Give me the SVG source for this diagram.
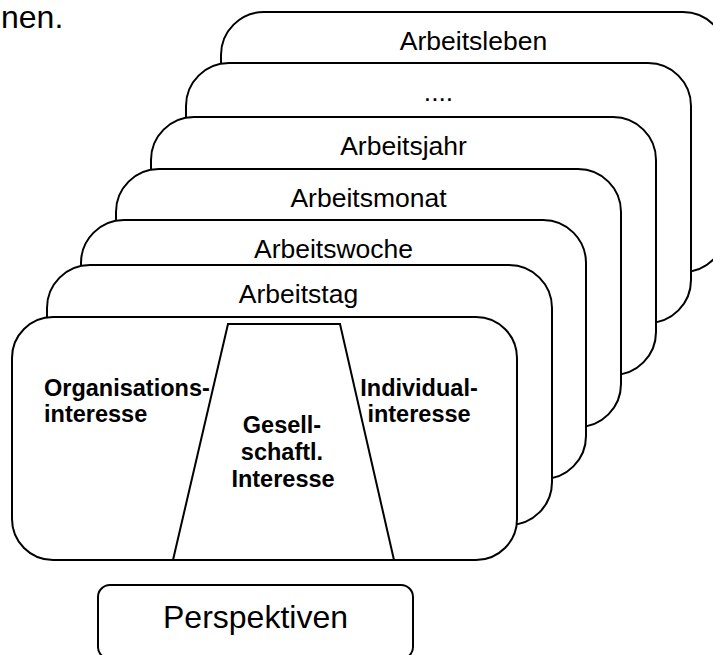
<svg xmlns="http://www.w3.org/2000/svg" width="713" height="655" viewBox="0 0 713 655">
  <style>
    .card { fill: #fff; stroke: #000; stroke-width: 2; }
    .lbl { font-family: "Liberation Sans", Arial, sans-serif; font-size: 26.5px; fill: #000; text-anchor: middle; }
    .big { font-size: 32px; }
    .bold { font-family: "Liberation Sans", Arial, sans-serif; font-size: 23.5px; font-weight: bold; fill: #000; }
    .mid { text-anchor: middle; }
  </style>
  <rect width="713" height="655" fill="#fff"/>

  <!-- trailing sentence fragment above the figure -->
  <text x="1" y="28" font-family="Liberation Sans, Arial, sans-serif" font-size="32" fill="#000">nen.</text>

  <!-- stacked time-horizon cards, back to front -->
  <g id="arbeitsleben">
    <rect class="card" x="221" y="12" width="505" height="260" rx="43"/>
    <text class="lbl" x="473.5" y="50">Arbeitsleben</text>
  </g>
  <g id="dots">
    <rect class="card" x="186" y="63" width="505" height="260" rx="43"/>
    <text class="lbl" x="438.5" y="101">....</text>
  </g>
  <g id="arbeitsjahr">
    <rect class="card" x="151" y="117" width="505" height="258" rx="43"/>
    <text class="lbl" x="403.5" y="155">Arbeitsjahr</text>
  </g>
  <g id="arbeitsmonat">
    <rect class="card" x="116" y="169" width="505" height="258" rx="43"/>
    <text class="lbl" x="368.5" y="207">Arbeitsmonat</text>
  </g>
  <g id="arbeitswoche">
    <rect class="card" x="81" y="220" width="505" height="259" rx="43"/>
    <text class="lbl" x="333.5" y="258">Arbeitswoche</text>
  </g>
  <g id="arbeitstag">
    <rect class="card" x="47" y="265" width="505" height="260" rx="43"/>
    <text class="lbl" x="298.5" y="303">Arbeitstag</text>
  </g>

  <!-- front card with the three interest perspectives -->
  <g id="perspektiven-karte">
    <rect class="card" x="12" y="317" width="505" height="243" rx="41"/>
    <polygon class="card" points="228,324 340,324 394,560 173,560"/>
    <text class="bold" x="44" y="396">Organisations-</text>
    <text class="bold" x="44" y="422">interesse</text>
    <text class="bold mid" x="282" y="433">Gesell-</text>
    <text class="bold mid" x="282" y="460">schaftl.</text>
    <text class="bold mid" x="283" y="487">Interesse</text>
    <text class="bold mid" x="419" y="396">Individual-</text>
    <text class="bold mid" x="419" y="422">interesse</text>
  </g>

  <g id="perspektiven">
    <rect class="card" x="98" y="585" width="315" height="74" rx="12"/>
    <text class="lbl big" x="255.5" y="628">Perspektiven</text>
  </g>
</svg>
